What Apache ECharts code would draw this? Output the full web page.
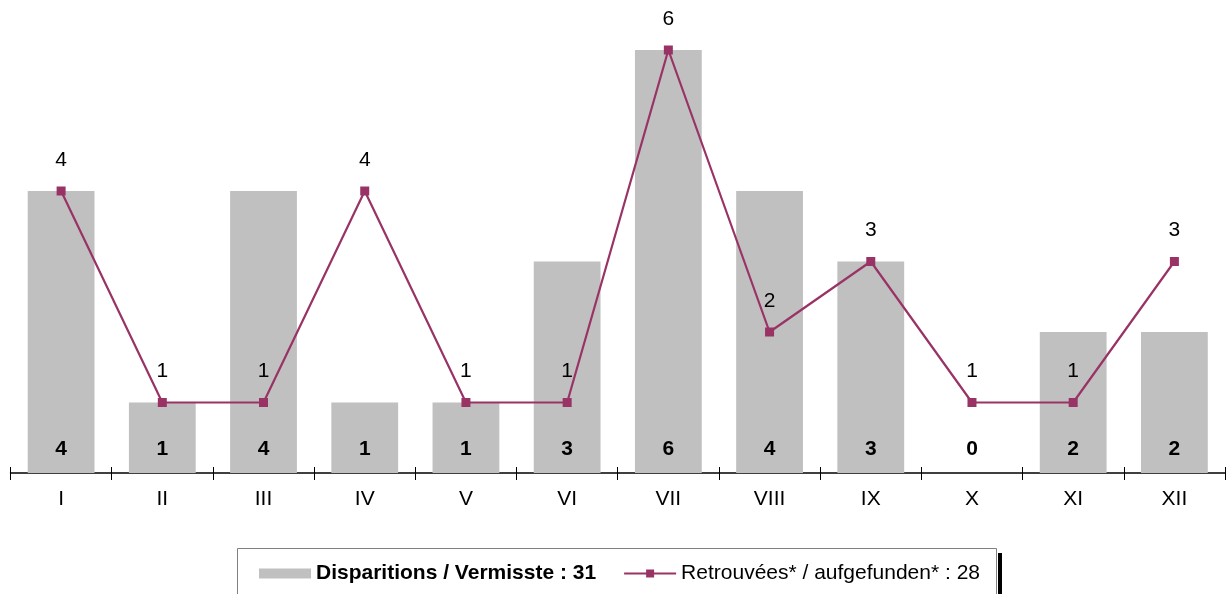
<!DOCTYPE html>
<html><head><meta charset="utf-8">
<script src="https://cdn.jsdelivr.net/npm/echarts@6/dist/echarts.min.js"></script>
<style>html,body{margin:0;padding:0;background:#fff}#c{width:1226px;height:594px}</style>
</head><body><div id="c"></div>
<script>
const categories = ['I','II','III','IV','V','VI','VII','VIII','IX','X','XI','XII'];
const disparitions = [4,1,4,1,1,3,6,4,3,0,2,2];
const retrouvees = [4,1,1,4,1,1,6,2,3,1,1,3];
const barName = 'Disparitions / Vermisste : 31';
const lineName = 'Retrouvées* / aufgefunden* : 28';

const font = 'Liberation Sans, Arial, sans-serif';
const chart = echarts.init(document.getElementById('c'));
chart.setOption({
  animation: false,
  grid: {left: 10.5, right: 1, top: 50, bottom: 121},
  xAxis: [{
    type: 'category', data: categories,
    axisLine: {lineStyle: {color: '#000', width: 1.5}},
    axisTick: {show: true, length: 7, lineStyle: {color: '#000'}},
    axisLabel: {color: '#000', fontSize: 21, fontFamily: font, margin: 16}
  }, {
    type: 'category', data: categories, position: 'bottom',
    axisLine: {show: false},
    axisTick: {show: true, inside: true, length: 6, lineStyle: {color: '#000'}},
    axisLabel: {show: false}
  }],
  yAxis: {type: 'value', min: 0, max: 6, show: false, splitLine: {show: false}},
  legend: {
    left: 259, top: 563, itemGap: 27, padding: 0,
    textStyle: {fontSize: 21, fontFamily: font, color: '#000'},
    data: [
      {name: barName, icon: 'rect', itemStyle: {color: '#c0c0c0'}, textStyle: {fontWeight: 'bold'}},
      {name: lineName}
    ],
    itemWidth: 52, itemHeight: 10
  },
  graphic: [
    {type: 'rect', shape: {x: 998, y: 553, width: 4, height: 60}, style: {fill: '#000'}, z: 0},
    {type: 'rect', shape: {x: 237.5, y: 548.5, width: 759, height: 60}, style: {fill: '#fff', stroke: '#808080', lineWidth: 1}, z: 0}
  ],
  series: [{
    name: barName, type: 'bar', data: disparitions, barWidth: '66%',
    itemStyle: {color: '#c0c0c0'},
    label: {show: true, position: 'insideBottom', distance: 13, fontSize: 21, fontWeight: 'bold', color: '#000', fontFamily: font},
    z: 2
  }, {
    name: lineName, type: 'line', data: retrouvees,
    symbol: 'rect', symbolSize: 9,
    lineStyle: {color: '#993366', width: 2.2},
    itemStyle: {color: '#993366'},
    label: {show: true, position: 'top', distance: 16, fontSize: 21, color: '#000', fontFamily: font},
    z: 3
  }]
});
</script></body></html>
